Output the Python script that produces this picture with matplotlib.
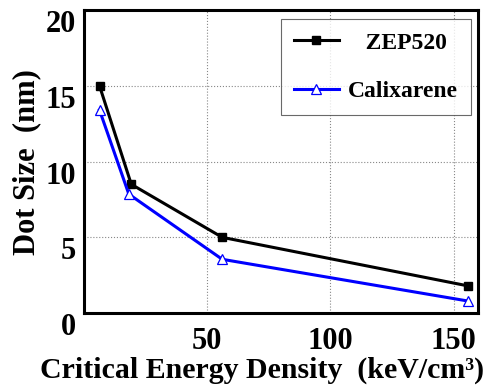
import matplotlib
matplotlib.use("Agg")
import matplotlib.pyplot as plt
from matplotlib.transforms import ScaledTranslation

energy_zep = [6.3, 19.2, 56.1, 155.7]
size_zep = [15.0, 8.5, 5.0, 1.8]
energy_cal = [6.3, 18.2, 56.1, 155.7]
size_cal = [13.4, 7.85, 3.55, 0.8]
xticks = [50, 100, 150]
yticks = [0, 5, 10, 15, 20]

plt.rcParams['font.family'] = 'Liberation Serif'
plt.rcParams['font.weight'] = 'bold'

fig = plt.figure(figsize=(4.94, 3.87), dpi=100)
ax = fig.add_axes([0.170, 0.191, 0.798, 0.783])

ax.plot(energy_zep, size_zep, color='black', lw=2.2, marker='s', ms=6,
        mfc='black', mec='black', label='   ZEP520')
ax.plot(energy_cal, size_cal, color='#0000ff', lw=2.2, marker='^', ms=7,
        mfc='white', mec='#0000ff', mew=0.9, label='Calixarene')

ax.set_xlim(0, 160)
ax.set_ylim(0, 20)
ax.set_xticks(xticks)
ax.set_yticks(yticks)
ax.grid(True, color='#888888', ls=':', lw=0.8)
ax.tick_params(length=0, labelsize=22)
ax.tick_params(axis='x', pad=10)
ax.tick_params(axis='y', pad=6)
for lab in ax.get_xticklabels() + ax.get_yticklabels():
    lab.set_fontweight('bold')
for lab in ax.get_yticklabels():
    lab.set_transform(lab.get_transform() + ScaledTranslation(0, -11/100, fig.dpi_scale_trans))
for s in ax.spines.values():
    s.set_linewidth(2.2)

ax.set_xlabel('Critical Energy Density  (keV/cm³)', fontsize=21.5, fontweight='bold', va='center')
ax.set_ylabel('Dot Size  (nm)', fontsize=22, fontweight='bold', va='center')
ax.xaxis.set_label_coords(0.452, -0.188)
ax.yaxis.set_label_coords(-0.145, 0.5)

leg = ax.legend(loc='upper right', bbox_to_anchor=(0.982, 0.970), borderaxespad=0,
                fontsize=17, frameon=True, fancybox=False, edgecolor='#444444',
                handlelength=1.9, handletextpad=0.4, borderpad=0.55,
                labelspacing=1.15)
leg.get_frame().set_linewidth(0.8)
for t in leg.get_texts():
    t.set_fontweight('bold')

fig.savefig('out.png', dpi=100)
